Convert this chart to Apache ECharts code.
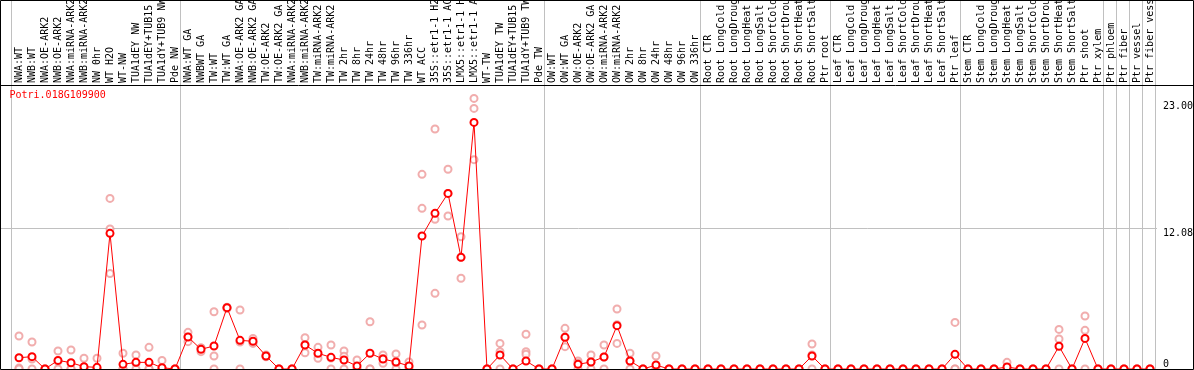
<!DOCTYPE html>
<html><head><meta charset="utf-8">
<script src="https://cdn.jsdelivr.net/npm/echarts@6/dist/echarts.min.js"></script>
<style>html,body{margin:0;padding:0;background:#fff}#c{width:1194px;height:370px}</style>
</head><body><div id="c"></div>
<script>
const chartTitle = 'Potri.018G109900';
const categories = [
'NWA:WT','NWB:WT','NWA:OE-ARK2','NWB:OE-ARK2','NWA:miRNA-ARK2','NWB:miRNA-ARK2','NW 0hr','WT H2O','WT-NW','TUA1dEY NW','TUA1dEY+TUB15 NW','TUA1dY+TUB9 NW','Pde NW',
'NWA:WT GA','NWBWT GA','TW:WT','TW:WT GA','NWA:OE-ARK2 GA','NWB:OE-ARK2 GA','TW:OE-ARK2','TW:OE-ARK2 GA','NWA:miRNA-ARK2','NWB:miRNA-ARK2','TW:miRNA-ARK2','TW:miRNA-ARK2','TW 2hr','TW 8hr','TW 24hr','TW 48hr','TW 96hr','TW 336hr','WT ACC','35S::etr1-1 H2O','35S::etr1-1 ACC','LMX5::etr1-1 H2O','LMX5::etr1-1 ACC','WT-TW','TUA1dEY TW','TUA1dEY+TUB15 TW','TUA1dY+TUB9 TW','Pde TW',
'OW:WT','OW:WT GA','OW:OE-ARK2','OW:OE-ARK2 GA','OW:miRNA-ARK2','OW:miRNA-ARK2','OW 2hr','OW 8hr','OW 24hr','OW 48hr','OW 96hr','OW 336hr',
'Root CTR','Root LongCold','Root LongDrought','Root LongHeat','Root LongSalt','Root ShortCold','Root ShortDrought','Root ShortHeat','Root ShortSalt','Ptr root',
'Leaf CTR','Leaf LongCold','Leaf LongDrought','Leaf LongHeat','Leaf LongSalt','Leaf ShortCold','Leaf ShortDrought','Leaf ShortHeat','Leaf ShortSalt','Ptr leaf',
'Stem CTR','Stem LongCold','Stem LongDrought','Stem LongHeat','Stem LongSalt','Stem ShortCold','Stem ShortDrought','Stem ShortHeat','Stem ShortSalt','Ptr shoot','Ptr xylem',
'Ptr phloem','Ptr fiber','Ptr vessel','Ptr fiber vessel'
];
const groupSizes = [13, 28, 12, 10, 10, 11, 1, 1, 1, 1];

const meanValues = [
0.97,1.06,0,0.74,0.54,0.2,0.14,11.65,0.4,0.57,0.57,0.11,0,
2.75,1.69,1.98,5.27,2.46,2.38,1.12,0,0,2.06,1.35,1.0,0.77,0.26,1.35,0.86,0.6,0.26,11.42,13.37,15.08,9.59,21.18,0,1.2,0,0.69,0,
0,2.72,0.4,0.6,1.03,3.72,0.69,0,0.34,0,0,0,
0,0,0,0,0,0,0,0,1.12,0,
0,0,0,0,0,0,0,0,0,1.26,
0,0,0,0.17,0,0,0,1.95,0,2.63,0,
0,0,0,0
];
const rep1 = [
2.83,2.32,0,1.55,1.63,0.92,0.92,14.65,1.35,1.2,1.86,0.74,0,
3.15,1.49,4.92,5.3,5.07,2.63,1.2,0,0,2.69,1.86,2.06,1.55,0.77,4.06,1.2,1.29,0.6,16.72,20.61,17.15,11.36,23.24,0,2.2,0,2.98,0,
0,3.49,0.69,1.2,2.06,5.15,1.35,0,1.12,0,0,0,
0,0,0,0,0,0,0,0,2.15,0,
0,0,0,0,0,0,0,0,0,4.0,
0,0,0,0.57,0,0,0,3.4,0,4.55,0,
0,0,0,0
];
const rep2 = [
0.08,0.86,0,0.67,0,0,0,12.02,0,0.5,0,0,0,
2.75,1.8,1.12,5.27,2.31,2.3,1.1,0,0,2.1,1.27,0.94,1.09,0,0,0.9,0.5,0.2,13.8,12.85,15.08,9.6,22.38,0,1.49,0,1.49,0,
0,2.75,0.5,0.6,1.03,3.8,0.7,0,0,0,0,0,
0,0,0,0,0,0,0,0,1.2,0,
0,0,0,0,0,0,0,0,0,0,
0,0,0,0,0,0,0,2.58,0,3.32,0,
0,0,0,0
];
const rep3 = [
0,0,0,0,0,0,0,8.2,0,0,0,0,0,
2.35,1.8,0,5.2,0,2.2,1.05,0,0,1.4,0.92,0,0,0,0,0.49,0,0,3.78,6.5,13.14,7.79,17.98,0,0,0,1.26,0,
0,1.92,0,0,0,2.2,0,0,0,0,0,0,
0,0,0,0,0,0,0,0,0,0,
0,0,0,0,0,0,0,0,0,0,
0,0,0,0,0,0,0,0,0,0,0,
0,0,0,0
];
const yTickValues = [0, 12.08, 23.00];
const yGridValues = [12.08];
const yMax = 24.39;

const bounds = new Set([0]);
let acc = 0;
groupSizes.forEach(s => { acc += s; bounds.add(acc); });

const repData = [];
[rep1, rep2, rep3].forEach(r => r.forEach((v, i) => repData.push([i, v])));

const font = 'DejaVu Sans Mono';
const labelBase = {margin: 6, fontFamily: font, fontSize: 10, color: '#000',
  formatter: v => v === 0 ? '0' : v.toFixed(2)};
const chart = echarts.init(document.getElementById('c'), null, {renderer: 'canvas'});
chart.setOption({
  animation: false,
  backgroundColor: '#fff',
  title: {
    text: chartTitle, left: 9.5, top: 90, padding: 0,
    textStyle: {fontFamily: font, fontSize: 10, fontWeight: 'normal', color: '#ff0000'}
  },
  grid: [
    {left: 12.5, width: 1144, top: 85, bottom: 1, outerBoundsMode: 'none', containLabel: false},
    {left: 11, width: 1144, top: 0, bottom: 1, outerBoundsMode: 'none', containLabel: false},
    {left: 0, right: 37, top: 85, bottom: 1, outerBoundsMode: 'none', containLabel: false}
  ],
  xAxis: [
    {gridIndex: 0, type: 'category', data: categories, position: 'top', boundaryGap: true,
     axisLine: {show: false}, axisTick: {show: false}, splitLine: {show: false},
     axisLabel: {interval: 0, rotate: 90, margin: 2, fontFamily: font, fontSize: 10, color: '#000'}},
    {gridIndex: 1, type: 'category', data: categories, boundaryGap: true,
     axisLine: {show: false}, axisTick: {show: false}, axisLabel: {show: false},
     splitLine: {show: true, interval: (i) => bounds.has(i), lineStyle: {color: '#c0c0c0', width: 1}}},
    {gridIndex: 2, type: 'value', min: 0, max: 1, show: false}
  ],
  yAxis: [
    {gridIndex: 0, type: 'value', min: 0, max: yMax, show: false},
    {gridIndex: 1, type: 'value', min: 0, max: 1, show: false},
    {gridIndex: 2, type: 'value', min: 0, max: yMax, position: 'right',
     axisLine: {show: false},
     axisTick: {show: false, customValues: yGridValues},
     splitLine: {show: true, lineStyle: {color: '#c0c0c0', width: 1}},
     axisLabel: Object.assign({customValues: yTickValues.filter(v => v > 0), verticalAlign: 'top'}, labelBase)},
    {gridIndex: 2, type: 'value', min: 0, max: yMax, position: 'right',
     axisLine: {show: false}, axisTick: {show: false}, splitLine: {show: false},
     axisLabel: Object.assign({customValues: yTickValues.filter(v => v === 0), verticalAlign: 'bottom'}, labelBase)}
  ],
  series: [
    {type: 'scatter', xAxisIndex: 0, yAxisIndex: 0, data: repData, symbol: 'emptyCircle', symbolSize: 7,
     itemStyle: {color: '#ee9999', borderColor: '#ee9999', borderWidth: 1.1}, z: 2, silent: true},
    {type: 'line', xAxisIndex: 0, yAxisIndex: 0, data: meanValues, symbol: 'emptyCircle', symbolSize: 7,
     showAllSymbol: true,
     itemStyle: {color: '#ff0000', borderColor: '#ff0000', borderWidth: 1.5},
     lineStyle: {color: '#ff0000', width: 1}, z: 3, silent: true}
  ],
  graphic: [
    {type: 'rect', z: 10, silent: true, shape: {x: 0.5, y: 0.5, width: 1193, height: 369},
     style: {fill: 'none', stroke: '#000', lineWidth: 1}},
    {type: 'line', z: 10, silent: true, shape: {x1: 0, y1: 85.5, x2: 1194, y2: 85.5},
     style: {stroke: '#000', lineWidth: 1}}
  ]
});
</script></body></html>
